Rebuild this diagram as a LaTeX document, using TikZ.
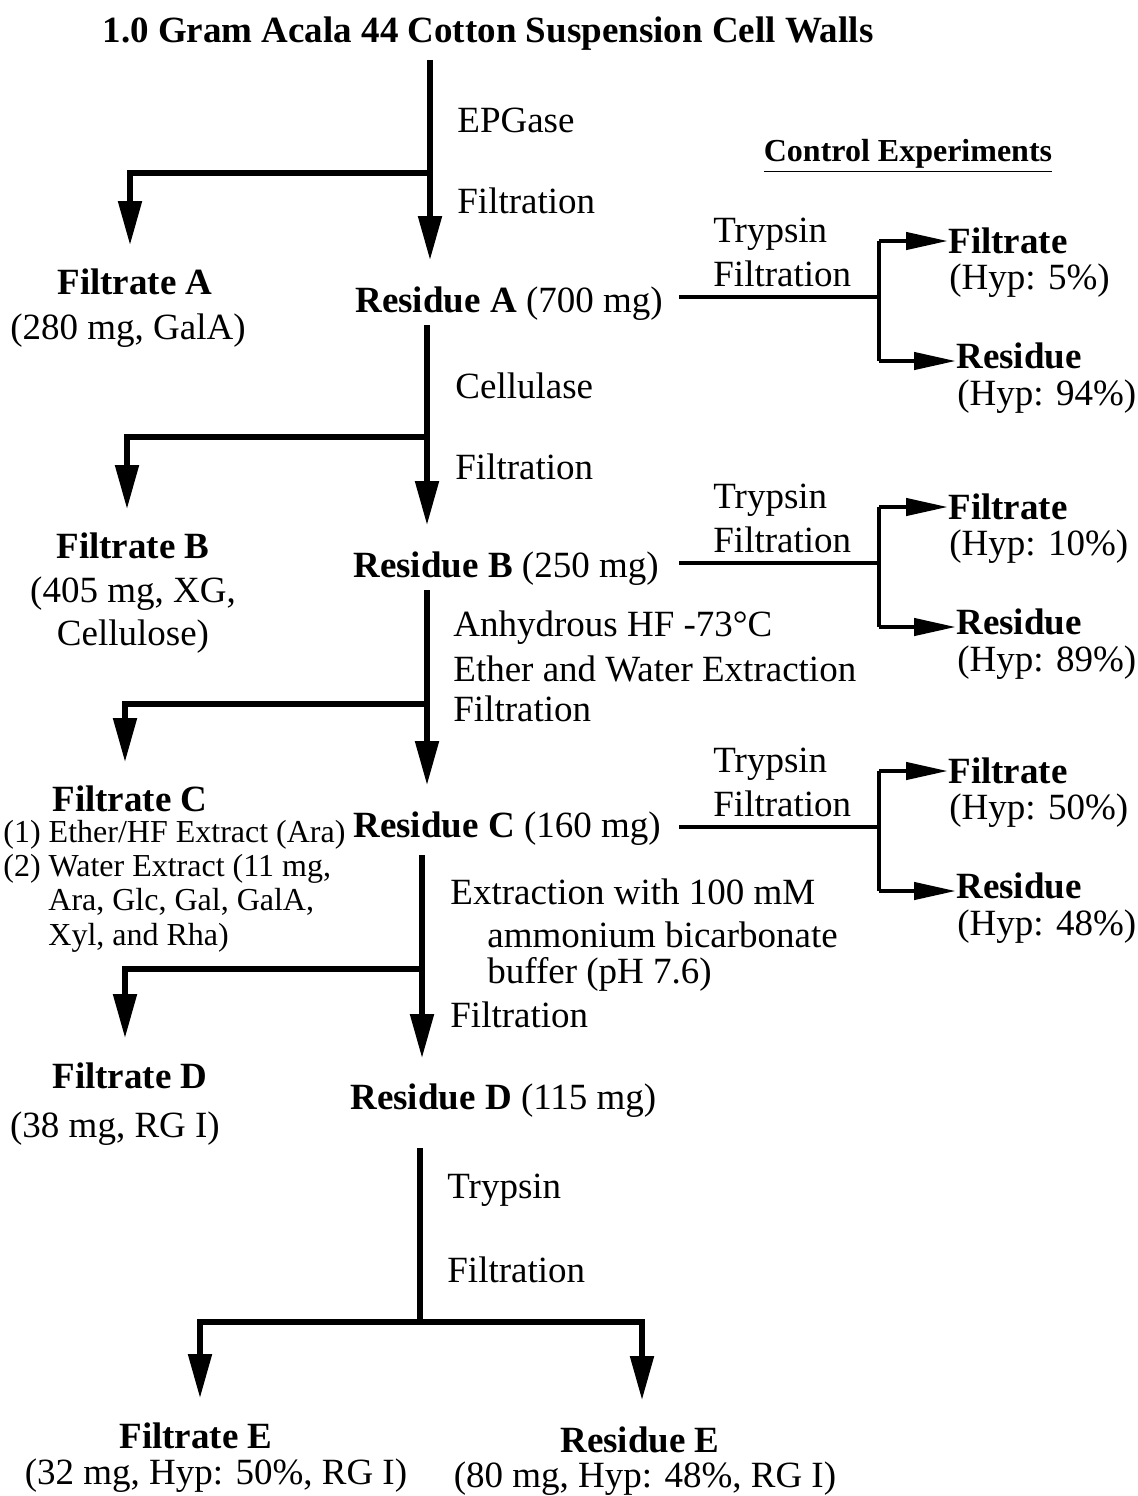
\documentclass[tikz,border=0pt]{standalone}
\usepackage{fontspec}
\setmainfont{Liberation Serif}
\usetikzlibrary{arrows.meta}

\begin{document}
\begin{tikzpicture}[x=0.5pt, y=-0.5pt,
        every node/.style={inner sep=0pt, font=\fontsize{18.5}{20}\selectfont},
        lbl/.style={anchor=west},
        hd/.style={font=\fontsize{18.5}{20}\selectfont\bfseries},
        flow/.style={line width=2.6pt, -{Triangle[width=11.5pt, length=22pt]}},
        bar/.style={line width=2.6pt},
        side/.style={line width=2.2pt, -{Triangle[width=8.5pt, length=21pt]}},
        sidebar/.style={line width=2.2pt}]

        \useasboundingbox (0,0) rectangle (1137,1496);

        \node[hd] (wall) at (488,34) {1.0 Gram Acala 44 Cotton Suspension Cell Walls};
        \node[font=\fontsize{16}{18}\selectfont\bfseries] (ctl) at (908,156) {\underline{Control Experiments}};

        % main line
        \coordinate (a0) at (430,60);
        \coordinate (a1) at (430,173);
        \coordinate (a2) at (430,260);
        \coordinate (fa) at (130,245);
        \draw[flow] (a0) -- (a2);
        \draw[flow] (a1) -| (fa);
        \node[lbl] (ep) at (457,120) {EPGase};
        \node[lbl] (fi1) at (457,201) {Filtration};
        \node[hd] (filA) at (135,282) {Filtrate A};
        \node (filAinfo) at (128,331) {(280 mg, GalA)};
        \node[lbl] (resA) at (355,304) {\textbf{Residue A} (700 mg)};

        \coordinate (b0) at (427,325);
        \coordinate (b1) at (427,437);
        \coordinate (b2) at (427,525);
        \coordinate (fb) at (127,509);
        \draw[flow] (b0) -- (b2);
        \draw[flow] (b1) -| (fb);
        \node[lbl] (cel) at (455,386) {Cellulase};
        \node[lbl] (fi2) at (455,467) {Filtration};
        \node[hd] (filB) at (133,546) {Filtrate B};
        \node[align=center, font=\fontsize{18.5}{21.5}\selectfont] (filBinfo) at (133,615) {(405 mg, XG,\\Cellulose)};
        \node[lbl] (resB) at (353,569) {\textbf{Residue B} (250 mg)};

        \coordinate (c0) at (427,590);
        \coordinate (c1) at (427,704);
        \coordinate (c2) at (427,785);
        \coordinate (fc) at (125,762);
        \draw[flow] (c0) -- (c2);
        \draw[flow] (c1) -| (fc);
        \node[lbl] (hf) at (453,628) {Anhydrous HF -73°C};
        \node[lbl] (ew) at (453,669) {Ether and Water Extraction};
        \node[lbl] (fi3) at (453,709) {Filtration};
        \node[hd] (filC) at (130,799) {Filtrate C};
        \node[lbl, align=left, font=\fontsize{16}{17.2}\selectfont] (filCinfo) at (3,886)
            {(1) Ether/HF Extract (Ara)\\(2) Water Extract (11 mg,\\\hspace*{22.5pt}Ara, Glc, Gal, GalA,\\\hspace*{22.5pt}Xyl, and Rha)};
        \node[lbl] (resC) at (353,829) {\textbf{Residue C} (160 mg)};

        \coordinate (d0) at (422,855);
        \coordinate (d1) at (422,969);
        \coordinate (d2) at (422,1058);
        \coordinate (fd) at (125,1038);
        \draw[flow] (d0) -- (d2);
        \draw[flow] (d1) -| (fd);
        \node[lbl] (ex) at (450,892) {Extraction with 100 mM};
        \node[lbl] (am) at (487,935) {ammonium bicarbonate};
        \node[lbl] (bu) at (487,974) {buffer (pH 7.6)};
        \node[lbl] (fi4) at (450,1015) {Filtration};
        \node[hd] (filD) at (130,1076) {Filtrate D};
        \node (filDinfo) at (115,1129) {(38 mg, RG I)};
        \node[lbl] (resD) at (350,1101) {\textbf{Residue D} (115 mg)};

        \coordinate (e0) at (420,1148);
        \coordinate (e1) at (420,1322);
        \coordinate (fe) at (200,1398);
        \coordinate (re) at (642,1400);
        \draw[bar] (e0) -- (e1);
        \draw[flow] (e1) -| (fe);
        \draw[flow] (e1) -| (re);
        \node[lbl] (tr) at (447,1190) {Trypsin};
        \node[lbl] (fi5) at (447,1270) {Filtration};
        \node[hd] (filE) at (196,1436) {Filtrate E};
        \node (filEinfo) at (216,1476) {(32 mg, Hyp: 50\%, RG I)};
        \node[hd] (resE) at (640,1440) {Residue E};
        \node (resEinfo) at (645,1479) {(80 mg, Hyp: 48\%, RG I)};

        % control experiments
        \foreach \n/\y/\f/\r in {A/297/5/94, B/563/10/89, C/827/50/48} {
            \coordinate (s\n) at (679,\y);
            \coordinate (j\n) at (879,\y);
            \coordinate (jf\n) at (879,\y-56);
            \coordinate (jr\n) at (879,\y+64);
            \draw[sidebar] (s\n) -- (j\n);
            \draw[sidebar] (jf\n) -- (jr\n);
            \node[lbl] (try\n) at (713,\y-63) {Trypsin};
            \node[lbl] (fil\n) at (713,\y-23) {Filtration};
            \node[hd, anchor=west] (ctlF\n) at (948,\y-56) {Filtrate};
            \node[lbl] (hypF\n) at (949,\y-16) {(Hyp: \f\%)};
            \node[hd, anchor=west] (ctlR\n) at (956,\y+59) {Residue};
            \node[lbl] (hypR\n) at (957,\y+100) {(Hyp: \r\%)};
            \draw[side] (jf\n) -- (jf\n -| ctlF\n.west);
            \draw[side] (jr\n) -- (jr\n -| ctlR\n.west);
        }
    \end{tikzpicture}
\end{document}
